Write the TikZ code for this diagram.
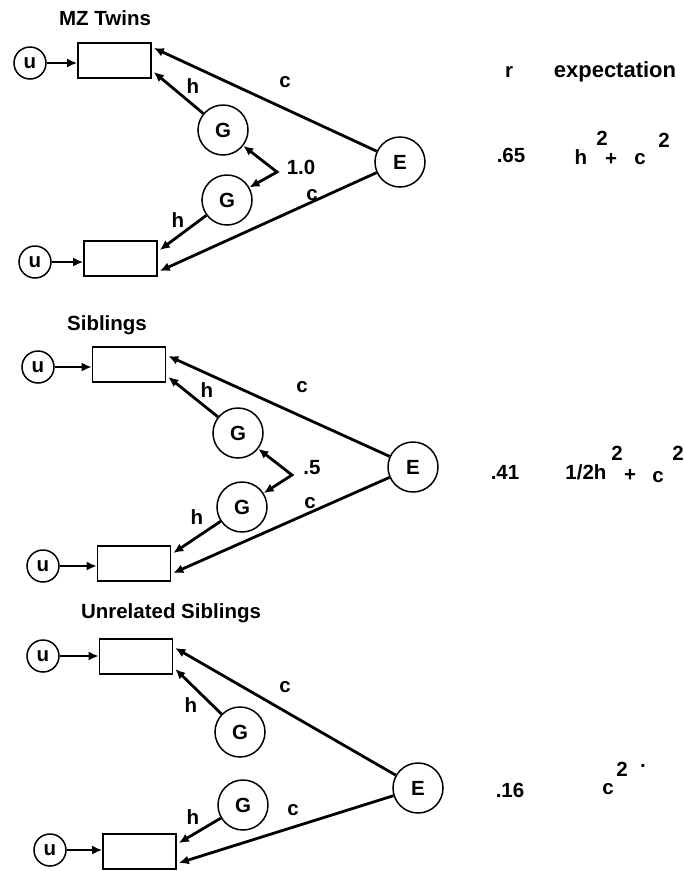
\documentclass[tikz,border=0pt]{standalone}
\usepackage{fontspec}
\setmainfont{Liberation Sans}
\usetikzlibrary{arrows.meta,calc}
\begin{document}
\begin{tikzpicture}[x=1pt,y=-1pt,
  every node/.style={font=\fontsize{20.5}{24}\selectfont\bfseries},
  bigc/.style={draw,circle,line width=1.5pt,minimum size=50pt,inner sep=0pt},
  smallc/.style={draw,circle,line width=1.5pt,minimum size=32pt,inner sep=0pt},
  box/.style={draw,rectangle,line width=1.6pt,inner sep=0pt,minimum width=73pt,minimum height=35pt},
  arr/.style={line width=2.8pt,-{Latex[length=10pt,width=9pt]}},
  darr/.style={line width=2.8pt,{Latex[length=10pt,width=9pt]}-{Latex[length=10pt,width=9pt]}},
  lab/.style={inner sep=0pt}]
\useasboundingbox (0,0) rectangle (684,871);

% ---------- Panel 1: MZ Twins ----------
\node[lab] (at) at (105,18) {MZ Twins};
\node[smallc] (au1) at (30,63) {u};
\node[box] (ar1) at (114.5,60.5) {};
\node[bigc] (aG1) at (223,130) {G};
\node[bigc] (aG2) at (227,200) {G};
\node[bigc] (aE) at (400,162) {E};
\node[box] (ar2) at (120.5,258.5) {};
\node[smallc] (au2) at (35,262) {u};
\coordinate (ak) at (277,172);
\draw[arr] (au1) -- (au1 -| ar1.west);
\draw[arr] (au2) -- (au2 -| ar2.west);
\draw[arr] (aG1) -- ($(ar1.east)+(2,11.5)$);
\draw[arr] (aE) -- ($(ar1.east)+(2,-12.5)$);
\draw[darr] (aG1) -- (ak) -- (aG2);
\draw[arr] (aG2) -- ($(ar2.east)+(2,-8.5)$);
\draw[arr] (aE) -- ($(ar2.east)+(2,12.5)$);
\node[lab] (ah1) at (193,86) {h};
\node[lab] (ac1) at (285,82) {c};
\node[lab] (ah2) at (178,220) {h};
\node[lab] (ac2) at (312,195) {c};
\node[lab] (aone) at (301,167) {1.0};

% ---------- Panel 2: Siblings ----------
\node[lab] (bt) at (107,325) {Siblings};
\node[smallc] (bu1) at (38,367) {u};
\node[box] (br1) at (129,364.5) {};
\node[bigc] (bG1) at (238,433) {G};
\node[bigc] (bG2) at (242,507) {G};
\node[bigc] (bE) at (413,467) {E};
\node[box] (br2) at (134,563.5) {};
\node[smallc] (bu2) at (43,566) {u};
\coordinate (bk) at (292,475);
\draw[arr] (bu1) -- (bu1 -| br1.west);
\draw[arr] (bu2) -- (bu2 -| br2.west);
\draw[arr] (bG1) -- ($(br1.east)+(2,12.5)$);
\draw[arr] (bE) -- ($(br1.east)+(2,-8.5)$);
\draw[darr] (bG1) -- (bk) -- (bG2);
\draw[arr] (bG2) -- ($(br2.east)+(2,-10.5)$);
\draw[arr] (bE) -- ($(br2.east)+(2,9.5)$);
\node[lab] (bh1) at (207,390) {h};
\node[lab] (bc1) at (302,387) {c};
\node[lab] (bh2) at (197,517) {h};
\node[lab] (bc2) at (310,503) {c};
\node[lab] (bhalf) at (312,468) {.5};

% ---------- Panel 3: Unrelated Siblings ----------
\node[lab] (ct) at (171,613) {Unrelated Siblings};
\node[smallc] (cu1) at (43,656) {u};
\node[box] (cr1) at (136,656.5) {};
\node[bigc] (cG1) at (240,732) {G};
\node[bigc] (cG2) at (243,805) {G};
\node[bigc] (cE) at (418,788) {E};
\node[box] (cr2) at (139.5,851.5) {};
\node[smallc] (cu2) at (50,850) {u};
\draw[arr] (cu1) -- (cu1 -| cr1.west);
\draw[arr] (cu2) -- (cu2 -| cr2.west);
\draw[arr] (cG1) -- ($(cr1.east)+(2,12.5)$);
\draw[arr] (cE) -- ($(cr1.east)+(2,-8.5)$);
\draw[arr] (cG2) -- ($(cr2.east)+(2,-8.5)$);
\draw[arr] (cE) -- ($(cr2.east)+(2,11.5)$);
\node[lab] (ch1) at (191,705) {h};
\node[lab] (cc1) at (285,687) {c};
\node[lab] (ch2) at (193,817) {h};
\node[lab] (cc2) at (293,810) {c};

% ---------- Right-hand columns ----------
\node[lab] (hr) at (509,72) {r};
\node[lab,font=\fontsize{22}{26}\selectfont\bfseries] (hx) at (615,72) {expectation};

\node[lab] (r1) at (511,155) {.65};
\node[lab] (e1a) at (581,157) {h};
\node[lab] (e1b) at (602,138) {2};
\node[lab] (e1c) at (611,159) {+};
\node[lab] (e1d) at (640,159) {c};
\node[lab] (e1e) at (664,140) {2};

\node[lab] (r2) at (505,472) {.41};
\node[lab] (e2a) at (586,472) {1/2h};
\node[lab] (e2b) at (617,453) {2};
\node[lab] (e2c) at (630,475) {+};
\node[lab] (e2d) at (658,477) {c};
\node[lab] (e2e) at (678,453) {2};

\node[lab] (r3) at (510,790) {.16};
\node[lab] (e3a) at (608,789) {c};
\node[lab] (e3b) at (622,769) {2};
\node[lab] (e3c) at (643,766) {.};
\end{tikzpicture}
\end{document}
